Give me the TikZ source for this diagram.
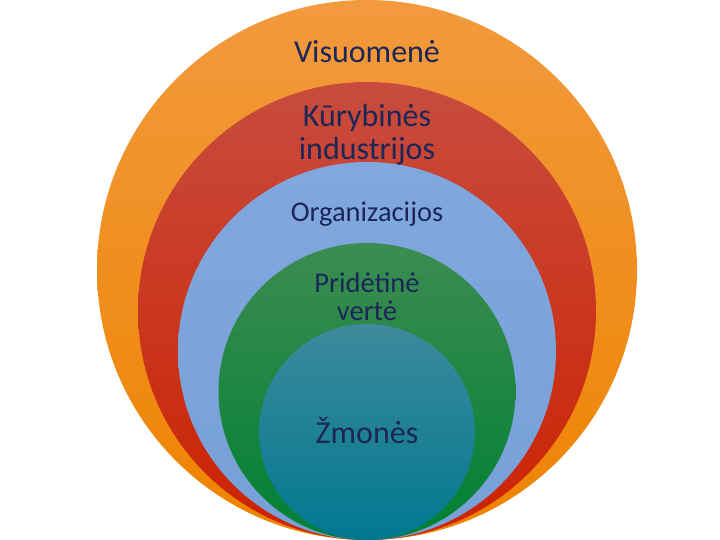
\documentclass[tikz,border=0pt]{standalone}
\usepackage{fontspec}
\setmainfont{Carlito}
\definecolor{txt}{RGB}{28,38,88}
\definecolor{orT}{RGB}{242,154,62}
\definecolor{orB}{RGB}{238,131,0}
\definecolor{rdT}{RGB}{200,76,62}
\definecolor{rdB}{RGB}{204,34,0}
\definecolor{blT}{RGB}{128,168,222}
\definecolor{blB}{RGB}{120,160,216}
\definecolor{grT}{RGB}{60,140,82}
\definecolor{grB}{RGB}{0,128,50}
\definecolor{tlT}{RGB}{62,138,156}
\definecolor{tlB}{RGB}{0,120,144}
\tikzset{
  lbl/.style={text=txt, align=center, anchor=base, inner sep=0pt},
  big/.style={lbl, font=\fontsize{32}{38}\selectfont},
  small/.style={lbl, font=\fontsize{28.5}{34}\selectfont},
}
\begin{document}
\begin{tikzpicture}[x=1pt,y=-1pt]
\useasboundingbox (0,0) rectangle (720,540);
\shade[top color=orT, bottom color=orB] (367,270) circle[radius=270pt];
\shade[top color=rdT, bottom color=rdB] (367,311) circle[radius=229pt];
\shade[top color=blT, bottom color=blB] (367,351) circle[radius=189pt];
\shade[top color=grT, bottom color=grB] (367,391.5) circle[radius=148.5pt];
\shade[top color=tlT, bottom color=tlB] (367,432) circle[radius=108pt];
\node[big] (v) at (367,63) {Visuomenė};
\node[big] (k1) at (367,127) {Kūrybinės};
\node[big] (k2) at (367,160) {industrijos};
\node[small] (o) at (367,222) {Organizacijos};
\node[small] (p1) at (367,292) {Pridėtinė};
\node[small] (p2) at (367,320) {vertė};
\node[big] (z) at (367,443) {Žmonės};
\end{tikzpicture}
\end{document}
